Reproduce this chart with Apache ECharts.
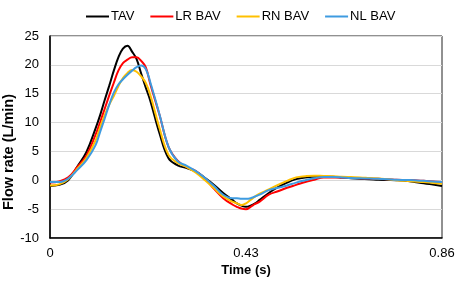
<!DOCTYPE html>
<html lang="en">
<head>
    <meta charset="UTF-8">
    <title>Flow rate</title>
    <script src="https://cdn.jsdelivr.net/npm/echarts@6/dist/echarts.min.js"></script>
    <style>
        html, body { margin: 0; padding: 0; background: #fff; }
    </style>
</head>
<body>
    <div id="chart" style="width: 459px; height: 284px;"></div>
    <script>
        // time samples (s)
        var times = [0, 0.02, 0.04, 0.06, 0.08, 0.10, 0.11, 0.12, 0.13, 0.14, 0.15, 0.16, 0.17, 0.18, 0.19, 0.20, 0.21,
            0.22, 0.24, 0.26, 0.28, 0.30, 0.32, 0.34, 0.36, 0.38, 0.40, 0.41, 0.42, 0.43, 0.44, 0.45,
            0.46, 0.48, 0.50, 0.52, 0.54, 0.56, 0.58, 0.60, 0.62, 0.64, 0.66, 0.68, 0.70, 0.72, 0.74,
            0.76, 0.78, 0.80, 0.82, 0.84, 0.86]

        var tav = [-1.0, -0.8, 0.0, 2.4, 4.9, 9.0, 11.3, 13.9, 16.4, 19.0, 21.3, 22.8, 23.3, 22.3, 21.0, 18.5, 16.1,
            13.8, 8.2, 3.8, 2.6, 2.1, 1.5, 0.4, -0.8, -2.2, -3.4, -4.0, -4.4, -4.6, -4.4, -4.0,
            -3.4, -2.2, -1.2, -0.4, 0.2, 0.5, 0.6, 0.6, 0.6, 0.5, 0.35, 0.25, 0.2, 0.1, 0.05,
            0, -0.1, -0.3, -0.5, -0.75, -1.0]

        var lrBav = [-0.4, -0.2, 0.5, 2.3, 4.3, 7.9, 10.1, 12.4, 14.7, 16.9, 19.0, 20.3, 20.9, 21.3, 21.3, 20.7, 19.6,
            16.7, 11.4, 5.8, 3.4, 2.3, 1.6, 0.3, -1.5, -3.1, -4.2, -4.6, -4.9, -5.0, -4.6, -4.1,
            -3.7, -2.5, -1.9, -1.3, -0.8, -0.3, 0.1, 0.5, 0.5, 0.45, 0.4, 0.35, 0.3, 0.25, 0.2,
            0.1, 0.05, 0, -0.1, -0.2, -0.3]

        var rnBav = [-0.9, -0.7, 0.2, 2.0, 3.9, 6.9, 9.2, 11.3, 13.1, 14.6, 16.3, 17.7, 18.6, 19.1, 18.8, 18.0, 16.9,
            14.8, 9.1, 4.4, 3.0, 2.3, 1.3, 0.0, -1.4, -2.8, -3.7, -4.0, -4.3, -4.0, -3.4, -2.8,
            -2.3, -1.6, -0.8, -0.1, 0.5, 0.7, 0.8, 0.75, 0.7, 0.6, 0.55, 0.5, 0.4, 0.3, 0.2,
            0.0, -0.1, -0.2, -0.3, -0.45, -0.6]

        var nlBav = [-0.3, -0.3, 0.3, 1.8, 3.5, 6.1, 8.4, 10.7, 13.1, 15.2, 16.6, 17.5, 18.3, 19.0, 19.6, 19.9, 19.3,
            17.0, 11.5, 5.8, 3.3, 2.5, 1.6, 0.4, -1.0, -2.5, -3.1, -3.1, -3.2, -3.2, -3.1, -2.8,
            -2.5, -1.7, -1.3, -0.9, -0.4, 0.0, 0.35, 0.55, 0.55, 0.5, 0.4, 0.35, 0.3, 0.25, 0.2,
            0.1, 0.05, 0, -0.1, -0.2, -0.3]

        var seriesNames = ['TAV', 'LR BAV', 'RN BAV', 'NL BAV']
        var seriesColors = ['#000000', '#ff0000', '#ffc000', '#3e9be0']
        var seriesValues = [tav, lrBav, rnBav, nlBav]

        function pairs(vals) {
            return times.map(function (t, i) { return [t, vals[i]] })
        }

        var chart = echarts.init(document.getElementById('chart'))
        var font = 'Liberation Sans, Arial, sans-serif'

        var options = {
            backgroundColor: '#fff',
            animation: false,
            textStyle: { fontFamily: font },
            legend: {
                data: seriesNames,
                top: 5,
                left: 81,
                icon: 'rect',
                itemWidth: 23,
                itemHeight: 2,
                itemGap: 16,
                textStyle: { color: '#000', fontSize: 13, fontFamily: font, padding: [0, 0, 0, -3] }
            },
            grid: {
                left: 50,
                right: 17,
                top: 36,
                bottom: 46,
                outerBoundsMode: 'none',
                containLabel: false,
                show: true,
                borderColor: '#222',
                borderWidth: 1
            },
            xAxis: {
                type: 'value',
                min: 0,
                max: 0.86,
                interval: 0.43,
                name: 'Time (s)',
                nameLocation: 'middle',
                nameGap: 26,
                nameMoveOverlap: false,
                nameTextStyle: { color: '#000', fontSize: 13, fontWeight: 'bold', fontFamily: font },
                axisLine: { show: true, onZero: false, lineStyle: { color: '#000', width: 1.5 } },
                axisTick: { show: false },
                splitLine: { show: false },
                axisLabel: { color: '#000', fontSize: 13, margin: 9, fontFamily: font }
            },
            yAxis: {
                type: 'value',
                min: -10,
                max: 25,
                interval: 5,
                name: 'Flow rate (L/min)',
                nameLocation: 'middle',
                nameGap: 34,
                nameMoveOverlap: false,
                nameTextStyle: { color: '#000', fontSize: 14.5, fontWeight: 'bold', fontFamily: font, padding: [0, 30, 0, 0] },
                axisLine: { show: true, onZero: false, lineStyle: { color: '#000', width: 1.5 } },
                axisTick: { show: false },
                splitLine: { show: true, lineStyle: { color: '#d9d9d9', width: 1 } },
                axisLabel: { color: '#000', fontSize: 13, margin: 11, fontFamily: font }
            },
            series: seriesNames.map(function (n, i) {
                return {
                    name: n,
                    type: 'line',
                    smooth: 0.4,
                    showSymbol: false,
                    symbol: 'none',
                    color: seriesColors[i],
                    lineStyle: { color: seriesColors[i], width: 2 },
                    data: pairs(seriesValues[i])
                }
            })
        }
        chart.setOption(options)
    </script>
</body>
</html>
